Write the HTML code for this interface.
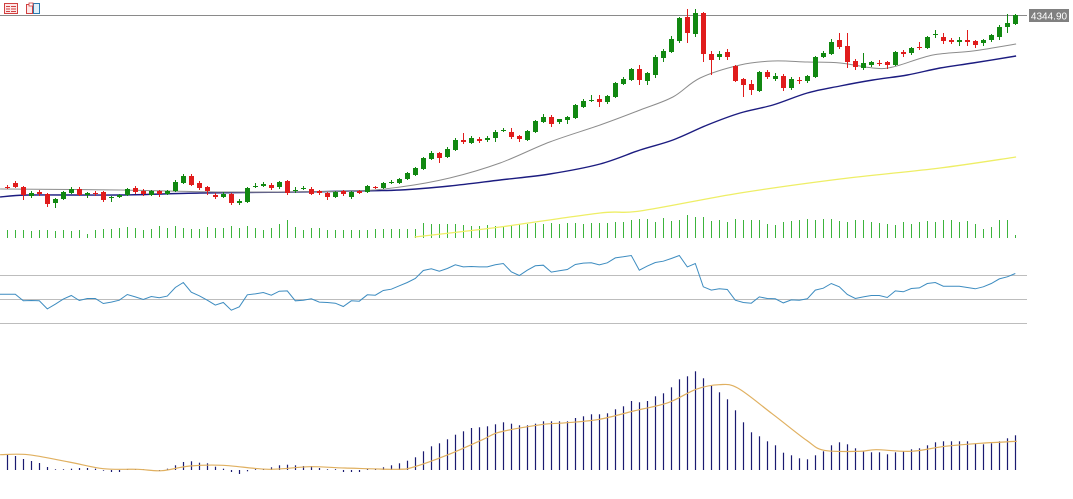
<!DOCTYPE html>
<html><head><meta charset="utf-8">
<style>
html,body{margin:0;padding:0;background:#fff;}
body{width:1073px;height:499px;overflow:hidden;position:relative;font-family:"Liberation Sans",sans-serif;}
svg{position:absolute;left:0;top:0;}
</style></head>
<body>
<svg id="chart" width="1073" height="499" viewBox="0 0 1073 499">
  <g>
    <g>
      <rect x="4.5" y="3.5" width="13" height="10" fill="#fde8e8" stroke="#d04040"/>
      <line x1="6" y1="6.5" x2="10" y2="6.5" stroke="#d04040"/><line x1="11" y1="6.5" x2="16" y2="6.5" stroke="#d04040"/>
      <line x1="6" y1="9" x2="10" y2="9" stroke="#d04040"/><line x1="11" y1="9" x2="16" y2="9" stroke="#d04040"/>
      <line x1="6" y1="11.5" x2="10" y2="11.5" stroke="#d04040"/><line x1="11" y1="11.5" x2="16" y2="11.5" stroke="#d04040"/>
    </g>
    <g>
      <rect x="26.5" y="4.5" width="6" height="9" fill="#fde8e8" stroke="#d04040"/>
      <rect x="33.5" y="3.5" width="6" height="10" fill="#e0f0fa" stroke="#2a7ab0"/>
      <rect x="29" y="3" width="4" height="3" fill="#fff" stroke="#d04040" stroke-width="0.8"/>
    </g>
  </g>
  <line x1="0" y1="15.5" x2="1027" y2="15.5" stroke="#8a8a8a" stroke-width="1"/>
  <g id="rsiLevels">
    <line x1="0" y1="275.5" x2="1027" y2="275.5" stroke="#bdbdbd"/>
    <line x1="0" y1="299.5" x2="1027" y2="299.5" stroke="#bdbdbd"/>
    <line x1="0" y1="323.5" x2="1027" y2="323.5" stroke="#bdbdbd"/>
  </g>
  <g id="vol"></g>
  <g id="mas"></g>
  <g id="candles"></g>
  <g id="rsi"></g>
  <g id="macd"></g>
  <g>
    <rect x="1029" y="9" width="40" height="13" fill="#808080"/>
    <text x="1049" y="19.5" text-anchor="middle" font-size="10" fill="#fff" font-family="Liberation Sans, sans-serif">4344.90</text>
  </g>
</svg>
<script>
const opens=[4173,4177,4173,4164,4168,4166,4157,4161,4167,4171,4165,4167,4168,4162,4163,4165,4172,4169,4165,4169,4166,4169,4177,4184,4177,4173,4165,4163,4166,4157,4158,4173,4174,4175,4173,4179,4169,4171,4171,4169,4167,4163,4169,4163,4169,4168,4173,4172,4177,4177,4181,4185,4191,4201,4207,4203,4210,4220,4217,4221,4220,4222,4229,4228,4224,4220,4228,4238,4243,4238,4240,4242,4253,4259,4261,4258,4263,4276,4280,4291,4279,4285,4302,4308,4319,4343,4326,4347,4306,4303,4308,4294,4281,4276,4269,4288,4281,4284,4272,4280,4279,4283,4303,4306,4320,4314,4299,4292,4295,4297,4298,4295,4308,4307,4313,4312,4325,4323,4320,4318,4320,4319,4317,4320,4323,4333,4336];
const closes=[4172,4173,4165,4167,4166,4156,4161,4168,4171,4165,4167,4166,4160,4163,4165,4171,4168,4166,4169,4166,4169,4178,4184,4175,4172,4169,4163,4166,4157,4159,4172,4174,4176,4172,4178,4167,4170,4172,4166,4167,4163,4168,4166,4168,4167,4174,4172,4177,4178,4181,4187,4192,4202,4207,4202,4211,4220,4218,4222,4219,4222,4228,4230,4223,4221,4229,4239,4243,4236,4241,4243,4255,4259,4260,4258,4264,4277,4281,4291,4280,4287,4303,4309,4321,4342,4327,4347,4306,4300,4306,4303,4279,4275,4270,4288,4283,4284,4272,4281,4279,4284,4303,4307,4318,4313,4298,4293,4297,4298,4296,4295,4308,4306,4312,4312,4323,4326,4319,4318,4320,4318,4315,4320,4325,4333,4337,4345];
const highs=[4175,4179,4174,4169,4170,4167,4162,4169,4173,4173,4168,4169,4169,4164,4166,4172,4174,4171,4170,4170,4170,4180,4186,4186,4179,4174,4167,4168,4167,4161,4173,4177,4178,4177,4179,4180,4173,4174,4173,4170,4168,4169,4170,4169,4170,4175,4174,4178,4180,4182,4188,4193,4203,4209,4208,4213,4222,4227,4224,4223,4224,4230,4232,4232,4225,4230,4240,4246,4245,4241,4244,4256,4261,4265,4265,4265,4278,4283,4292,4295,4288,4305,4311,4324,4343,4351,4351,4348,4309,4309,4311,4295,4282,4280,4289,4290,4287,4286,4283,4283,4285,4304,4309,4321,4327,4327,4301,4307,4299,4300,4299,4309,4310,4313,4318,4324,4330,4327,4322,4323,4330,4320,4321,4326,4335,4346,4346];
const lows=[4171,4172,4160,4162,4164,4153,4152,4160,4166,4164,4162,4164,4158,4158,4162,4164,4166,4164,4164,4163,4165,4168,4176,4174,4170,4165,4161,4162,4155,4155,4157,4172,4173,4170,4171,4165,4167,4170,4165,4165,4160,4162,4164,4161,4166,4167,4171,4171,4176,4176,4180,4184,4190,4200,4197,4202,4209,4216,4216,4217,4218,4218,4228,4221,4218,4219,4227,4237,4233,4236,4236,4241,4252,4258,4253,4256,4262,4275,4279,4275,4275,4282,4298,4307,4317,4317,4323,4298,4285,4300,4300,4278,4263,4265,4268,4281,4279,4269,4270,4276,4277,4282,4302,4305,4311,4292,4290,4290,4293,4294,4291,4294,4303,4305,4310,4311,4322,4316,4316,4314,4314,4312,4314,4318,4320,4327,4335];
const volumes=[8,8,8,7,8,8,7,8,7,8,4,8,9,9,10,11,10,8,9,12,10,12,10,9,9,11,10,10,12,10,12,10,8,10,14,18,11,8,10,10,8,8,8,8,8,8,9,9,9,9,9,9,15,14,14,14,14,13,12,12,13,12,12,13,14,14,15,14,15,14,15,15,14,15,15,15,16,16,18,19,19,16,20,17,18,23,21,21,17,18,16,19,18,18,18,14,13,16,17,18,19,18,19,19,17,16,18,18,16,15,14,13,16,14,16,17,16,18,18,16,17,14,9,11,18,18,3];
const rsiValues=[54.4,54.4,48.9,49.2,48.9,42.2,46.1,50.3,53.3,49.2,50.8,50.8,46.7,47.8,49.4,54.2,52.2,50,52.5,51.4,52.8,60,64.2,56.1,53.1,49.4,45.3,47.5,41.1,43.9,53.9,54.7,55.8,53.6,56.9,57.2,48.9,49.4,50.6,47.8,47.5,46.9,44.2,48.9,48.6,53.9,53.6,57.5,58.6,61.4,64.2,67.5,74.2,75.6,73.6,75.8,78.9,77.2,77.5,77.2,77.2,78.9,80,73.1,70,74.4,78.1,78.6,72.8,73.9,75,79.2,80.3,80.6,78.9,80.6,84.7,85.6,86.7,74.4,77.8,80.8,81.9,84.2,86.7,77.2,80,60.6,57.8,58.9,58.3,49.4,47.5,46.9,52.2,50.8,50.6,47.2,49.7,49.4,50.6,57.8,59.4,63.3,60.6,54.2,50.8,52.2,53.3,53.3,51.7,57.2,56.4,59.2,59.7,63.3,64.2,61.1,61.1,61.1,60,58.9,60.6,63.3,67.2,68.9,71.7];
const rsiTicks=[70,50,30];
const macdHist=[15,14,11,9,7,3,0.7,0.7,1.3,2,2,1.3,-0.7,-2,-2,0,0,0,-0.7,-0.7,1.3,4.7,8,8.7,7.3,6.7,3.3,1.3,-2,-4,-1.3,0,0.7,2.7,4.7,5.3,4.7,4,4,2,0.7,0,-2,-2,-2,0,0,2.7,4.7,6.7,9.3,12.7,18.7,23.7,26.7,30.7,35.3,38.7,42,42.7,43.7,45.7,47.7,46.3,44.7,44.7,46.3,48.7,48.7,48.7,48.7,52,53.7,55.7,55.7,56.7,60.7,63.7,69,67.7,69,73.7,76.7,82.7,90.7,93.7,98.7,91.7,84,77.7,70.7,59.7,47.7,37.7,33.7,28.7,24.7,17.3,14.7,11.7,10.7,14.7,18.7,24.7,27.7,25.7,21.7,18.7,17.7,17.7,15.7,17.7,18.7,20.7,21.7,24.7,27.7,28.7,28.7,28.7,28.7,26.7,25.7,26.7,28.7,31.7,34.7];
const signalIdx=[-0.9,2.6,7.7,12,16.3,19.3,22.8,27,32.7,37.8,42.2,48.7,50.8,55.1,59.5,61.6,66.7,70,74,78.3,82.6,86.1,89,91.3,95.6,99.9,102.1,106.5,108.6,113,117.2,121.6,126.2];
const signalVal=[15.3,15.3,8,1.3,0.7,-0.7,4,4.7,0.7,3.3,2,0.7,3,15.3,30.7,38,45.3,47.3,50.7,59,67.3,80.7,85.3,82,56.3,29.7,19.7,18.7,20.3,18.7,23.7,26.7,28.7];
const maFastIdx=[-0.9,14.1,27.8,42.8,49.1,55.3,61.6,67.8,74.1,79.1,83.2,86.6,91.6,95.7,100,104.1,108.2,110.7,115.7,120.7,126.1];
const maFastVal=[4171,4170,4168,4169,4173,4182,4197,4218,4235,4250,4263,4282,4295,4299,4298,4297,4292,4293,4305,4309,4316];
const maMidIdx=[-0.9,2.8,14.1,24.1,36.6,42.8,49.1,55.3,61.6,67.8,74.1,79.1,83.2,87.5,91.6,95.7,100,104.1,108.2,112.5,116.6,120.7,126.1];
const maMidVal=[4163,4165,4165,4167,4168,4169,4170,4174,4180,4186,4196,4210,4220,4235,4247,4255,4267,4274,4280,4285,4292,4297,4304];
const maSlowIdx=[50.9,55.3,61.6,74.1,79.1,91.6,104.1,116.6,126.1];
const maSlowVal=[4123,4127,4133,4147,4149,4167,4181,4192,4203];

const NS='http://www.w3.org/2000/svg';
function xOf(i){return 7.3+8*i;}
function xPix(i){return Math.round(xOf(i))+0.5;}
function yPrice(p){return 4360-p;}
function yVol(v){return 238-v;}
function yRsi(r){return 299.5-(r-50)*1.2;}
function yMacd(m){return 470-m;}
function mk(tag,attrs,parent){const e=document.createElementNS(NS,tag);for(const k in attrs)e.setAttribute(k,attrs[k]);parent.appendChild(e);return e;}
function smoothPath(pts){
  let d='M'+pts[0][0].toFixed(1)+','+pts[0][1].toFixed(1);
  for(let i=0;i<pts.length-1;i++){
    const p0=pts[Math.max(0,i-1)],p1=pts[i],p2=pts[i+1],p3=pts[Math.min(pts.length-1,i+2)];
    const c1x=p1[0]+(p2[0]-p0[0])/6,c1y=p1[1]+(p2[1]-p0[1])/6;
    const c2x=p2[0]-(p3[0]-p1[0])/6,c2y=p2[1]-(p3[1]-p1[1])/6;
    d+=' C'+c1x.toFixed(1)+','+c1y.toFixed(1)+' '+c2x.toFixed(1)+','+c2y.toFixed(1)+' '+p2[0].toFixed(1)+','+p2[1].toFixed(1);
  }
  return d;
}

const gVol=document.getElementById('vol');
volumes.forEach((v,i)=>{
  const l=mk('line',{x1:xPix(i),x2:xPix(i),y1:yVol(0),y2:yVol(v),stroke:'#3cb43c','stroke-width':1},gVol);
  
  
});

const gMa=document.getElementById('mas');
function curve(idx,val,color,w,name){
  const pts=idx.map((k,j)=>[Math.max(0,xOf(k)),yPrice(val[j])]);
  const p=mk('path',{d:smoothPath(pts),fill:'none',stroke:color,'stroke-width':w},gMa);
  
  
}
curve(maSlowIdx,maSlowVal,'#eeee66',1.3,'ma-slow-line');
curve(maMidIdx,maMidVal,'#1c1c80',1.4,'ma-mid-line');
curve(maFastIdx,maFastVal,'#8c8c8c',1,'ma-fast-line');

const gC=document.getElementById('candles');
opens.forEach((o,i)=>{
  const c=closes[i],up=c>=o,col=up?'#118811':'#e01c1c';
  const x=xPix(i);
  const w=mk('line',{x1:x,x2:x,y1:yPrice(highs[i]),y2:yPrice(lows[i]),stroke:col,'stroke-width':1},gC);
  
  
  const top=yPrice(Math.max(o,c)),bot=yPrice(Math.min(o,c));
  const b=mk('rect',{x:x-2.5,y:top,width:5,height:Math.max(1,bot-top),fill:col},gC);
  
  
});

const gR=document.getElementById('rsi');
const rPts=['0,'+yRsi(rsiValues[0]).toFixed(1)].concat(rsiValues.map((r,i)=>xOf(i).toFixed(1)+','+yRsi(r).toFixed(1))).join(' ');
const rl=mk('polyline',{points:rPts,fill:'none',stroke:'#3d8cc0','stroke-width':1},gR);



const gM=document.getElementById('macd');
macdHist.forEach((m,i)=>{
  const h=Math.abs(m)<0.5?(m<0?-0.8:0.8):m;
  const l=mk('line',{x1:xPix(i),x2:xPix(i),y1:yMacd(0),y2:yMacd(h),stroke:'#1a1a70','stroke-width':1.2},gM);
  
  
});
const sPts=signalIdx.map((k,j)=>[Math.max(0,xOf(k)),yMacd(signalVal[j])]);
const sl=mk('path',{d:smoothPath(sPts),fill:'none',stroke:'#e0b060','stroke-width':1.2},gM);


</script>
</body></html>
